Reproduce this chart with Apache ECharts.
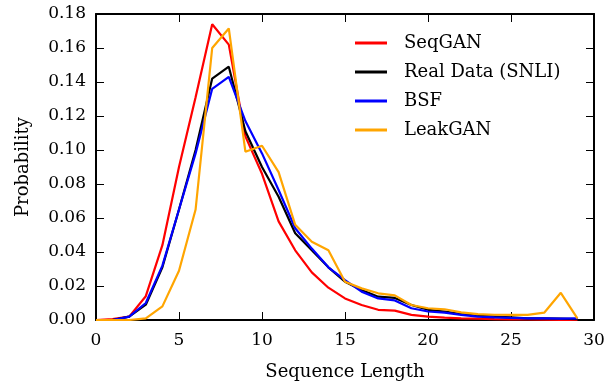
<!DOCTYPE html>
<html>
<head>
<meta charset="utf-8">
<script src="https://cdn.jsdelivr.net/npm/echarts@6/dist/echarts.min.js"></script>
<style>
  html, body { margin: 0; padding: 0; background: #fff; }
  #chart { width: 614px; height: 387px; }
</style>
</head>
<body>
<div id="chart"></div>
<script>
let lengths = [];
for (let i = 0; i < 30; i++) lengths.push(i);

let seqgan = [0, 0.0005, 0.002, 0.014, 0.044, 0.09, 0.131, 0.174, 0.162, 0.108, 0.086, 0.058, 0.041, 0.028, 0.019, 0.0127, 0.0088, 0.006, 0.0055, 0.003, 0.002, 0.0014, 0.001, 0.0008, 0.0005, 0.0004, 0.0003, 0.0002, 0.0001, 0.0001];
let realData = [0, 0, 0.002, 0.009, 0.031, 0.065, 0.1, 0.142, 0.149, 0.111, 0.09, 0.0725, 0.051, 0.041, 0.031, 0.0225, 0.0176, 0.0137, 0.013, 0.0088, 0.006, 0.005, 0.0035, 0.0025, 0.002, 0.0015, 0.001, 0.001, 0.0008, 0.0005];
let bsf = [0, 0, 0.002, 0.01, 0.032, 0.065, 0.098, 0.136, 0.143, 0.117, 0.098, 0.0765, 0.054, 0.042, 0.031, 0.0235, 0.0167, 0.0127, 0.0115, 0.0069, 0.005, 0.0043, 0.003, 0.002, 0.0015, 0.0012, 0.001, 0.001, 0.0008, 0.001];
let leakgan = [0, 0, 0, 0.001, 0.008, 0.029, 0.065, 0.16, 0.1715, 0.099, 0.1025, 0.087, 0.056, 0.046, 0.041, 0.0225, 0.0186, 0.0157, 0.0145, 0.0088, 0.0069, 0.0063, 0.0045, 0.0035, 0.0031, 0.003, 0.003, 0.0043, 0.016, 0.001];

let names = ['SeqGAN', 'Real Data (SNLI)', 'BSF', 'LeakGAN'];
let colors = ['#ff0000', '#000000', '#0000ff', '#ffa500'];
let seriesValues = [seqgan, realData, bsf, leakgan];

let font = 'DejaVu Serif';
let chart = echarts.init(document.querySelector('#chart'));

function pairs(values) {
  return values.map((v, i) => [lengths[i], v]);
}

function frameAxis(extra) {
  return Object.assign({
    axisLine: { show: true, onZero: false, lineStyle: { color: '#000', width: 2 } },
    axisTick: { show: true, inside: true, length: 8, lineStyle: { color: '#000', width: 1 } },
    splitLine: { show: false }
  }, extra);
}

let option = {
  animation: false,
  grid: { left: 96, right: 20, top: 14, bottom: 67 },
  legend: {
    orient: 'vertical',
    left: 350,
    top: 29,
    itemWidth: 32,
    itemHeight: 3,
    itemGap: 11,
    icon: 'rect',
    data: names,
    textStyle: { fontFamily: font, fontSize: 18, color: '#000', padding: [0, 0, 0, 12] }
  },
  xAxis: [
    frameAxis({
      type: 'value', min: 0, max: 30, interval: 5,
      name: 'Sequence Length', nameLocation: 'middle', nameGap: 43,
      nameTextStyle: { fontFamily: font, fontSize: 18, color: '#000' },
      axisLabel: { fontFamily: font, fontSize: 17, color: '#000', margin: 12 }
    }),
    frameAxis({
      type: 'value', min: 0, max: 30, interval: 5, position: 'top',
      axisLabel: { show: false }
    })
  ],
  yAxis: [
    frameAxis({
      type: 'value', min: 0, max: 0.18, interval: 0.02,
      name: 'Probability', nameLocation: 'middle', nameGap: 64,
      nameTextStyle: { fontFamily: font, fontSize: 18, color: '#000' },
      axisLabel: { fontFamily: font, fontSize: 17, color: '#000', margin: 10, formatter: v => v.toFixed(2) }
    }),
    frameAxis({
      type: 'value', min: 0, max: 0.18, interval: 0.02, position: 'right',
      axisLabel: { show: false }
    })
  ],
  series: names.map((name, i) => ({
    name: name,
    type: 'line',
    data: pairs(seriesValues[i]),
    showSymbol: false,
    symbol: 'none',
    color: colors[i],
    lineStyle: { color: colors[i], width: 2.2 },
    z: 2 + i
  }))
};

chart.setOption(option);
</script>
</body>
</html>
